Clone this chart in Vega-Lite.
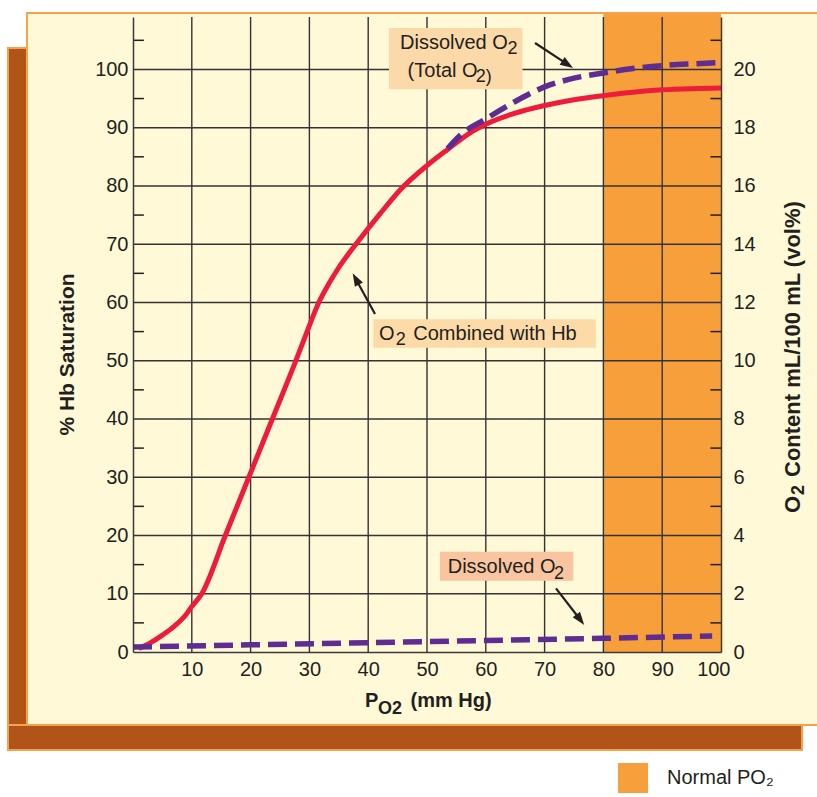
{
  "$schema": "https://vega.github.io/schema/vega-lite/v6.json",
  "width": 588,
  "height": 635,
  "autosize": {"type": "none"},
  "padding": {"left": 133, "top": 17, "right": 96, "bottom": 145},
  "background": "#ffffff",
  "config": {
    "view": {"stroke": null},
    "font": "Liberation Sans",
    "axis": {
      "labelFont": "Liberation Sans",
      "labelFontSize": 20,
      "labelColor": "#231F20",
      "titleFont": "Liberation Sans",
      "titleColor": "#231F20",
      "domainColor": "#3a3a3a",
      "domainWidth": 1.5,
      "ticks": false,
      "grid": false
    },
    "legend": {"labelFont": "Liberation Sans"}
  },
  "data": {"values": [{}]},
  "datasets": {
    "gridX": [{"v": 10}, {"v": 20}, {"v": 30}, {"v": 40}, {"v": 50}, {"v": 60}, {"v": 70}, {"v": 80}, {"v": 90}],
    "gridY": [{"v": 10}, {"v": 20}, {"v": 30}, {"v": 40}, {"v": 50}, {"v": 60}, {"v": 70}, {"v": 80}, {"v": 90}, {"v": 100}],
    "minor": [{"v": 5}, {"v": 15}, {"v": 25}, {"v": 35}, {"v": 45}, {"v": 55}, {"v": 65}, {"v": 75}, {"v": 85}, {"v": 95}, {"v": 105}],
    "red": [
      {"po2": 1, "sat": 0.6}, {"po2": 3, "sat": 1.6}, {"po2": 5, "sat": 2.9}, {"po2": 7, "sat": 4.4},
      {"po2": 9, "sat": 6.4}, {"po2": 10, "sat": 7.8}, {"po2": 11.7, "sat": 10}, {"po2": 15.7, "sat": 20},
      {"po2": 19.7, "sat": 30}, {"po2": 23.7, "sat": 40}, {"po2": 27.7, "sat": 50}, {"po2": 29.6, "sat": 55},
      {"po2": 31.6, "sat": 60}, {"po2": 33.3, "sat": 63.2}, {"po2": 35, "sat": 66}, {"po2": 38.3, "sat": 70.5},
      {"po2": 42, "sat": 75.2}, {"po2": 45.7, "sat": 79.6}, {"po2": 50, "sat": 83.5}, {"po2": 53.3, "sat": 86.1},
      {"po2": 57.8, "sat": 89.4}, {"po2": 60, "sat": 90.6}, {"po2": 65, "sat": 92.5}, {"po2": 70, "sat": 93.8},
      {"po2": 75, "sat": 94.8}, {"po2": 80, "sat": 95.5}, {"po2": 85, "sat": 96.1}, {"po2": 90, "sat": 96.5},
      {"po2": 95, "sat": 96.7}, {"po2": 100, "sat": 96.8}
    ],
    "dissolved": [
      {"po2": 0, "vol": 0.17}, {"po2": 20, "vol": 0.245}, {"po2": 40, "vol": 0.32},
      {"po2": 60, "vol": 0.395}, {"po2": 80, "vol": 0.47}, {"po2": 98.5, "vol": 0.55}
    ],
    "total": [
      {"po2": 53.5, "vol": 17.28}, {"po2": 56, "vol": 17.8}, {"po2": 60, "vol": 18.3}, {"po2": 65, "vol": 18.9},
      {"po2": 70, "vol": 19.4}, {"po2": 75, "vol": 19.7}, {"po2": 80, "vol": 19.88}, {"po2": 85, "vol": 20.03},
      {"po2": 90, "vol": 20.13}, {"po2": 95, "vol": 20.19}, {"po2": 99.3, "vol": 20.23}
    ],
    "arrows": [
      {"x": 68.37, "y": 104.54, "x2": 73.91, "y2": 100.86},
      {"x": 41.16, "y": 58.02, "x2": 37.89, "y2": 64.03},
      {"x": 71.94, "y": 10.93, "x2": 76.07, "y2": 5.53}
    ],
    "mainText": [
      {"t": "Dissolved O", "x": 45.41, "y": 103.51},
      {"t": "(Total O", "x": 46.7, "y": 98.78},
      {"t": "O", "x": 41.84, "y": 53.56},
      {"t": "Combined with Hb", "x": 47.67, "y": 53.56},
      {"t": "Dissolved O", "x": 53.52, "y": 13.51}
    ],
    "subText": [
      {"t": "2", "x": 63.7, "y": 102.65},
      {"t": "2)", "x": 58.3, "y": 97.84},
      {"t": "2", "x": 44.68, "y": 52.7},
      {"t": "2", "x": 71.6, "y": 12.53}
    ],
    "xTitleBig": [
      {"t": "P", "x": 39.46, "y": -9.44},
      {"t": "(mm Hg)", "x": 47.2, "y": -9.44}
    ],
    "xTitleSub": [
      {"t": "O2", "x": 41.67, "y": -10.64}
    ],
    "rightTitleBig": [
      {"t": "O", "x": 113.44, "y": 23.86},
      {"t": "Content mL/100 mL (vol%)", "x": 113.44, "y": 30.04}
    ],
    "rightTitleSub": [
      {"t": "2", "x": 114.12, "y": 26.95}
    ]
  },
  "layer": [
    {
      "layer": [
        {
          "mark": {"type": "rect", "fill": "#FFF9D7", "stroke": "#F6A24A", "strokeWidth": 2, "clip": false},
          "encoding": {
            "x": {"datum": -18.03, "type": "quantitative", "scale": {"domain": [0, 100], "nice": false, "zero": false}},
            "x2": {"datum": 120},
            "y": {"datum": -12.53, "type": "quantitative", "scale": {"domain": [0, 109], "nice": false, "zero": false}},
            "y2": {"datum": 109.69}
          }
        },
        {
          "mark": {"type": "rect", "fill": "#B0541A", "stroke": "#F6A24A", "strokeWidth": 2, "clip": false},
          "encoding": {
            "x": {"datum": -21.26, "type": "quantitative", "scale": {"domain": [0, 100], "nice": false, "zero": false}},
            "x2": {"datum": -18.03},
            "y": {"datum": -16.82, "type": "quantitative", "scale": {"domain": [0, 109], "nice": false, "zero": false}},
            "y2": {"datum": 103.68}
          }
        },
        {
          "mark": {"type": "rect", "fill": "#B0541A", "stroke": "#F6A24A", "strokeWidth": 2, "clip": false},
          "encoding": {
            "x": {"datum": -21.26, "type": "quantitative", "scale": {"domain": [0, 100], "nice": false, "zero": false}},
            "x2": {"datum": 113.78},
            "y": {"datum": -16.82, "type": "quantitative", "scale": {"domain": [0, 109], "nice": false, "zero": false}},
            "y2": {"datum": -12.53}
          }
        },
        {
          "data": {"values": [{"zone": "Normal PO₂"}]},
          "mark": {"type": "rect", "clip": false, "opacity": 1},
          "encoding": {
            "x": {"datum": 80, "type": "quantitative", "scale": {"domain": [0, 100], "nice": false, "zero": false}},
            "x2": {"datum": 100},
            "y": {"datum": 0, "type": "quantitative", "scale": {"domain": [0, 109], "nice": false, "zero": false}},
            "y2": {"datum": 109.5},
            "color": {
              "field": "zone", "type": "nominal",
              "scale": {"range": ["#F7A03B"]},
              "legend": {
                "orient": "none", "legendX": 485, "legendY": 746, "title": null,
                "symbolType": "square", "symbolSize": 900, "symbolStrokeWidth": 0,
                "labelFontSize": 20, "labelColor": "#231F20", "labelOffset": 19, "padding": 0
              }
            }
          }
        },
        {
          "data": {"name": "gridX"},
          "mark": {"type": "rule", "color": "#333333", "strokeWidth": 1.4},
          "encoding": {
            "x": {
              "field": "v", "type": "quantitative",
              "scale": {"domain": [0, 100], "nice": false, "zero": false},
              "axis": {"orient": "bottom", "values": [10, 20, 30, 40, 50, 60, 70, 80, 90, 100], "labelPadding": 7, "labelFlush": true, "labelFlushOffset": 9, "title": null, "zindex": 2}
            },
            "y": {"datum": 0, "type": "quantitative", "scale": {"domain": [0, 109], "nice": false, "zero": false}},
            "y2": {"datum": 109}
          }
        },
        {
          "data": {"name": "gridY"},
          "mark": {"type": "rule", "color": "#333333", "strokeWidth": 1.4},
          "encoding": {
            "y": {
              "field": "v", "type": "quantitative",
              "scale": {"domain": [0, 109], "nice": false, "zero": false},
              "axis": {
                "orient": "left", "values": [0, 10, 20, 30, 40, 50, 60, 70, 80, 90, 100], "labelPadding": 5, "zindex": 2,
                "title": "% Hb Saturation", "titleFontSize": 21, "titleFontWeight": "bold",
                "titleAngle": -90, "titleBaseline": "middle", "titleAlign": "center", "titleX": -66, "titleY": 337
              }
            },
            "x": {"datum": 0, "type": "quantitative", "scale": {"domain": [0, 100], "nice": false, "zero": false}},
            "x2": {"datum": 100}
          }
        },
        {
          "data": {"name": "minor"},
          "mark": {"type": "rule", "color": "#231F20", "strokeWidth": 1.5},
          "encoding": {
            "y": {"field": "v", "type": "quantitative", "scale": {"domain": [0, 109], "nice": false, "zero": false}},
            "x": {"datum": 0, "type": "quantitative", "scale": {"domain": [0, 100], "nice": false, "zero": false}},
            "x2": {"datum": 1.85}
          }
        },
        {
          "data": {"name": "minor"},
          "mark": {"type": "rule", "color": "#231F20", "strokeWidth": 1.5},
          "encoding": {
            "y": {"field": "v", "type": "quantitative", "scale": {"domain": [0, 109], "nice": false, "zero": false}},
            "x": {"datum": 98.2, "type": "quantitative", "scale": {"domain": [0, 100], "nice": false, "zero": false}},
            "x2": {"datum": 100}
          }
        },
        {
          "data": {"name": "red"},
          "mark": {"type": "line", "color": "#ED1C3A", "strokeWidth": 5, "interpolate": "monotone"},
          "encoding": {
            "x": {"field": "po2", "type": "quantitative", "scale": {"domain": [0, 100], "nice": false, "zero": false}},
            "y": {"field": "sat", "type": "quantitative", "scale": {"domain": [0, 109], "nice": false, "zero": false}}
          }
        },
        {
          "mark": {"type": "rect", "fill": "#FCD9A9"},
          "encoding": {
            "x": {"datum": 43.54, "type": "quantitative", "scale": {"domain": [0, 100], "nice": false, "zero": false}},
            "x2": {"datum": 66.24},
            "y": {"datum": 96.59, "type": "quantitative", "scale": {"domain": [0, 109], "nice": false, "zero": false}},
            "y2": {"datum": 107.1}
          }
        },
        {
          "mark": {"type": "rect", "fill": "#FDDBA8"},
          "encoding": {
            "x": {"datum": 40.87, "type": "quantitative", "scale": {"domain": [0, 100], "nice": false, "zero": false}},
            "x2": {"datum": 78.72},
            "y": {"datum": 52.23, "type": "quantitative", "scale": {"domain": [0, 109], "nice": false, "zero": false}},
            "y2": {"datum": 57.11}
          }
        },
        {
          "mark": {"type": "rect", "fill": "#F9C5A0"},
          "encoding": {
            "x": {"datum": 52.21, "type": "quantitative", "scale": {"domain": [0, 100], "nice": false, "zero": false}},
            "x2": {"datum": 74.88},
            "y": {"datum": 12.24, "type": "quantitative", "scale": {"domain": [0, 109], "nice": false, "zero": false}},
            "y2": {"datum": 17.22}
          }
        },
        {
          "data": {"name": "arrows"},
          "mark": {"type": "rule", "color": "#231F20", "strokeWidth": 2.2},
          "encoding": {
            "x": {"field": "x", "type": "quantitative", "scale": {"domain": [0, 100], "nice": false, "zero": false}},
            "x2": {"field": "x2"},
            "y": {"field": "y", "type": "quantitative", "scale": {"domain": [0, 109], "nice": false, "zero": false}},
            "y2": {"field": "y2"}
          }
        },
        {
          "mark": {"type": "point", "shape": "M0,-1L0.7,1L-0.7,1Z", "filled": true, "color": "#231F20", "opacity": 1, "size": 169, "angle": 123.3},
          "encoding": {
            "x": {"datum": 73.91, "type": "quantitative", "scale": {"domain": [0, 100], "nice": false, "zero": false}},
            "y": {"datum": 100.86, "type": "quantitative", "scale": {"domain": [0, 109], "nice": false, "zero": false}}
          }
        },
        {
          "mark": {"type": "point", "shape": "M0,-1L0.7,1L-0.7,1Z", "filled": true, "color": "#231F20", "opacity": 1, "size": 169, "angle": 331.3},
          "encoding": {
            "x": {"datum": 37.89, "type": "quantitative", "scale": {"domain": [0, 100], "nice": false, "zero": false}},
            "y": {"datum": 64.03, "type": "quantitative", "scale": {"domain": [0, 109], "nice": false, "zero": false}}
          }
        },
        {
          "mark": {"type": "point", "shape": "M0,-1L0.7,1L-0.7,1Z", "filled": true, "color": "#231F20", "opacity": 1, "size": 169, "angle": 142.9},
          "encoding": {
            "x": {"datum": 76.07, "type": "quantitative", "scale": {"domain": [0, 100], "nice": false, "zero": false}},
            "y": {"datum": 5.53, "type": "quantitative", "scale": {"domain": [0, 109], "nice": false, "zero": false}}
          }
        },
        {
          "data": {"name": "mainText"},
          "mark": {"type": "text", "align": "left", "baseline": "alphabetic", "font": "Liberation Sans", "fontSize": 20, "color": "#231F20"},
          "encoding": {
            "x": {"field": "x", "type": "quantitative", "scale": {"domain": [0, 100], "nice": false, "zero": false}},
            "y": {"field": "y", "type": "quantitative", "scale": {"domain": [0, 109], "nice": false, "zero": false}},
            "text": {"field": "t"}
          }
        },
        {
          "data": {"name": "subText"},
          "mark": {"type": "text", "align": "left", "baseline": "alphabetic", "font": "Liberation Sans", "fontSize": 18, "color": "#231F20"},
          "encoding": {
            "x": {"field": "x", "type": "quantitative", "scale": {"domain": [0, 100], "nice": false, "zero": false}},
            "y": {"field": "y", "type": "quantitative", "scale": {"domain": [0, 109], "nice": false, "zero": false}},
            "text": {"field": "t"}
          }
        },
        {
          "data": {"name": "xTitleBig"},
          "mark": {"type": "text", "align": "left", "baseline": "alphabetic", "font": "Liberation Sans", "fontSize": 20, "fontWeight": "bold", "color": "#231F20"},
          "encoding": {
            "x": {"field": "x", "type": "quantitative", "scale": {"domain": [0, 100], "nice": false, "zero": false}},
            "y": {"field": "y", "type": "quantitative", "scale": {"domain": [0, 109], "nice": false, "zero": false}},
            "text": {"field": "t"}
          }
        },
        {
          "data": {"name": "xTitleSub"},
          "mark": {"type": "text", "align": "left", "baseline": "alphabetic", "font": "Liberation Sans", "fontSize": 18, "fontWeight": "bold", "color": "#231F20"},
          "encoding": {
            "x": {"field": "x", "type": "quantitative", "scale": {"domain": [0, 100], "nice": false, "zero": false}},
            "y": {"field": "y", "type": "quantitative", "scale": {"domain": [0, 109], "nice": false, "zero": false}},
            "text": {"field": "t"}
          }
        },
        {
          "data": {"name": "rightTitleBig"},
          "mark": {"type": "text", "align": "left", "baseline": "alphabetic", "angle": 270, "font": "Liberation Sans", "fontSize": 22, "fontWeight": "bold", "color": "#231F20"},
          "encoding": {
            "x": {"field": "x", "type": "quantitative", "scale": {"domain": [0, 100], "nice": false, "zero": false}},
            "y": {"field": "y", "type": "quantitative", "scale": {"domain": [0, 109], "nice": false, "zero": false}},
            "text": {"field": "t"}
          }
        },
        {
          "data": {"name": "rightTitleSub"},
          "mark": {"type": "text", "align": "left", "baseline": "alphabetic", "angle": 270, "font": "Liberation Sans", "fontSize": 18, "fontWeight": "bold", "color": "#231F20"},
          "encoding": {
            "x": {"field": "x", "type": "quantitative", "scale": {"domain": [0, 100], "nice": false, "zero": false}},
            "y": {"field": "y", "type": "quantitative", "scale": {"domain": [0, 109], "nice": false, "zero": false}},
            "text": {"field": "t"}
          }
        }
      ]
    },
    {
      "layer": [
        {
          "data": {"name": "dissolved"},
          "mark": {"type": "line", "color": "#5F2C91", "strokeWidth": 5.5, "strokeDash": [19, 8]},
          "encoding": {
            "x": {"field": "po2", "type": "quantitative", "scale": {"domain": [0, 100], "nice": false, "zero": false}},
            "y": {"field": "vol", "type": "quantitative", "scale": {"domain": [0, 21.8], "nice": false, "zero": false}}
          }
        },
        {
          "data": {"name": "total"},
          "mark": {"type": "line", "color": "#5F2C91", "strokeWidth": 5.5, "strokeDash": [19, 8], "interpolate": "monotone"},
          "encoding": {
            "x": {"field": "po2", "type": "quantitative", "scale": {"domain": [0, 100], "nice": false, "zero": false}},
            "y": {
              "field": "vol", "type": "quantitative",
              "scale": {"domain": [0, 21.8], "nice": false, "zero": false},
              "axis": {
                "orient": "right", "values": [0, 2, 4, 6, 8, 10, 12, 14, 16, 18, 20], "labelPadding": 12, "zindex": 2,
                "title": null
              }
            }
          }
        }
      ]
    }
  ],
  "resolve": {"scale": {"y": "independent"}}
}
